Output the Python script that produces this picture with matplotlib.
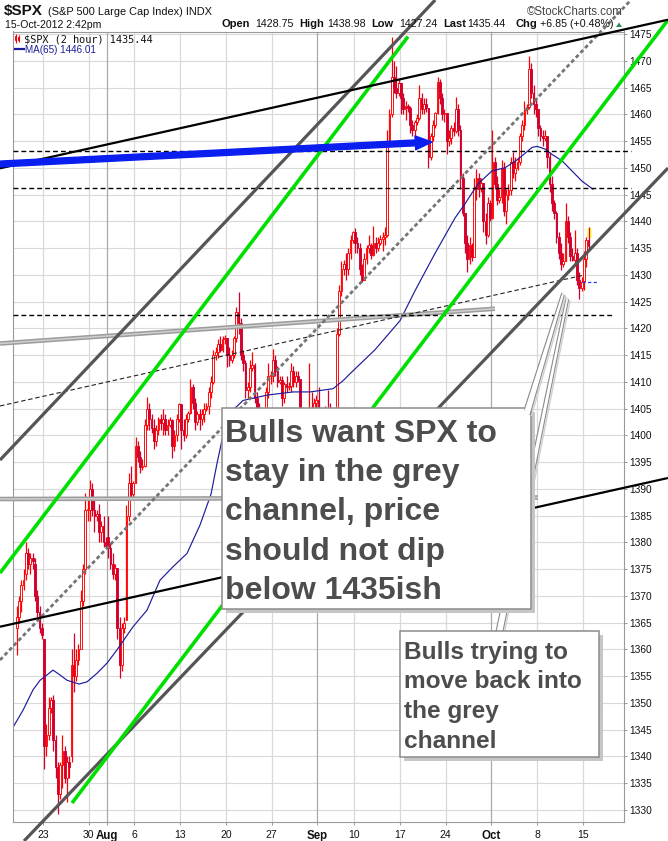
import matplotlib
matplotlib.use("Agg")
import matplotlib.pyplot as plt
from matplotlib.patches import Rectangle, Polygon, FancyArrowPatch
import numpy as np
import pandas as pd

plt.rcParams['font.family'] = ['Liberation Sans', 'DejaVu Sans']

# ------------------------------------------------------------------ data
trading_days = [d for d in pd.bdate_range('2012-07-18', '2012-10-15')
                if d != pd.Timestamp('2012-09-03')]          # Labor Day closed

# 2-hour OHLC bars, four per session (last session partial)
opens = [
    1364, 1366, 1369, 1372,
    1374, 1378, 1376, 1377,
    1376, 1370, 1367, 1364,
    1362, 1342, 1344, 1349,
    1350.5, 1343, 1338, 1333,
    1338.4, 1341, 1336, 1339,
    1340, 1357, 1355, 1358,
    1360, 1369, 1375, 1386,
    1386, 1390, 1386, 1385,
    1385.3, 1382, 1383, 1380,
    1381, 1379, 1376, 1374,
    1375.1, 1364, 1357, 1364,
    1365.5, 1385, 1391, 1389,
    1391, 1398, 1396, 1394,
    1394.2, 1402, 1405, 1403,
    1401.4, 1399, 1401, 1403,
    1402.2, 1403, 1401, 1402,
    1402.8, 1398, 1400, 1403,
    1405.9, 1401, 1400, 1403,
    1404.1, 1409, 1406, 1402.5,
    1403.9, 1403, 1404, 1405,
    1405.5, 1408, 1410, 1415,
    1415.5, 1417, 1416, 1418,
    1418.2, 1415, 1414, 1415,
    1418.1, 1423, 1421, 1415,
    1413.5, 1408.5, 1409, 1412.5,
    1413.2, 1407, 1405, 1403,
    1402.1, 1403, 1408, 1411,
    1411.1, 1414, 1412, 1410,
    1410.4, 1407, 1409.5, 1409,
    1409.3, 1412, 1410, 1411,
    1410.5, 1404, 1402, 1399,
    1399.5, 1405, 1403, 1406,
    1406.6, 1401, 1398, 1403,
    1404.9, 1404, 1403, 1402,
    1403.7, 1419, 1427, 1431,
    1432.1, 1431, 1434, 1436.5,
    1437.9, 1436, 1435, 1431,
    1429.1, 1433, 1435, 1435.5,
    1433.6, 1436, 1435, 1436,
    1436.6, 1437, 1437.5, 1455,
    1460, 1467, 1465, 1464,
    1465.8, 1463, 1461, 1461.5,
    1461.2, 1458, 1457, 1458.5,
    1459.3, 1463, 1461, 1462,
    1461.1, 1452, 1456, 1458,
    1460.3, 1466, 1463, 1460,
    1460.2, 1455, 1455.5, 1457.5,
    1456.9, 1461, 1457, 1448,
    1441.6, 1436, 1433, 1435.5,
    1433.3, 1446, 1448, 1446,
    1447.2, 1440, 1437.5, 1443.5,
    1440.7, 1451, 1447, 1444,
    1444.5, 1450, 1442, 1445,
    1445.75, 1451, 1449, 1450,
    1451, 1456, 1458, 1461,
    1461.4, 1468.5, 1464, 1462,
    1460.9, 1457.5, 1456, 1455.5,
    1455.9, 1452, 1447, 1443.5,
    1441.5, 1437, 1434, 1432,
    1432.6, 1440, 1437, 1433.5,
    1432.8, 1434, 1429, 1427.5,
    1428.75, 1433, 1436.5]

highs = [
    1368, 1370, 1373, 1375,
    1380, 1379, 1378, 1378,
    1377, 1371, 1368, 1365,
    1362, 1346, 1351, 1351,
    1351.5, 1344, 1339, 1339,
    1343.9, 1342, 1340, 1340,
    1360, 1363.1, 1360, 1361,
    1371, 1376, 1389.2, 1388,
    1391.7, 1391, 1388, 1386,
    1387.2, 1384, 1385, 1381,
    1385, 1380, 1378, 1376,
    1375.1, 1366, 1365, 1366,
    1387, 1393, 1394.2, 1391.5,
    1399.6, 1399, 1397, 1395.5,
    1403, 1407.1, 1406, 1404,
    1403, 1402, 1403.5, 1404,
    1405, 1404, 1403, 1403.5,
    1403, 1401, 1404, 1406,
    1405.9, 1403, 1404, 1404.5,
    1410.5, 1409.5, 1407, 1404.5,
    1405, 1405, 1406, 1406,
    1409, 1411, 1416, 1416.5,
    1418, 1418.5, 1418.5, 1418.7,
    1418.2, 1416.5, 1416, 1418.5,
    1424, 1426.7, 1422, 1416,
    1414, 1410, 1414, 1415.5,
    1413.5, 1408, 1406, 1404,
    1404, 1409, 1413.5, 1412,
    1416.2, 1415, 1413, 1411,
    1411, 1410, 1411, 1410,
    1413.5, 1413, 1412, 1412,
    1410.5, 1405, 1403, 1400.5,
    1413.5, 1408, 1407, 1407.5,
    1409, 1402, 1404, 1405.5,
    1408.5, 1406, 1405, 1404,
    1420, 1428, 1432.5, 1432.8,
    1434, 1435, 1437.5, 1438.2,
    1438.8, 1437, 1436, 1432,
    1434, 1435.5, 1437.5, 1436,
    1439.2, 1437, 1437, 1437.5,
    1438, 1439, 1457, 1461,
    1474.5, 1470, 1469, 1466.5,
    1465.8, 1464, 1462.5, 1462,
    1461.5, 1459, 1459, 1460,
    1465.5, 1464, 1463, 1463,
    1461.1, 1456.5, 1459, 1460.5,
    1467, 1466.5, 1464, 1461,
    1460.2, 1457, 1458, 1458.5,
    1463.2, 1462, 1458, 1449,
    1441.6, 1437.5, 1437, 1436,
    1448, 1449.7, 1449, 1448,
    1447.2, 1441.5, 1444.5, 1444,
    1457.1, 1452, 1448.5, 1446,
    1451.5, 1451, 1446, 1447,
    1452, 1453, 1452, 1452,
    1456.5, 1459, 1462.5, 1462,
    1470.96, 1469.5, 1465.5, 1463,
    1461, 1458, 1457, 1457,
    1456, 1453, 1448.5, 1444,
    1442, 1438, 1436, 1434,
    1443.4, 1441, 1438, 1435,
    1438.4, 1435, 1430.5, 1429.5,
    1434.5, 1437, 1438.98]

lows = [
    1359, 1365, 1367, 1371,
    1373, 1375, 1374, 1375,
    1369, 1366, 1363, 1362,
    1337.6, 1340, 1343, 1348,
    1341, 1336, 1329.2, 1332,
    1334, 1335, 1331.5, 1336,
    1339, 1352, 1354, 1357,
    1360, 1368, 1374, 1384,
    1384, 1385, 1382, 1384,
    1380, 1380, 1379.2, 1379,
    1377, 1375, 1373.1, 1373,
    1362, 1354.7, 1356, 1363,
    1365.5, 1384, 1388, 1388,
    1391, 1395, 1393, 1393.5,
    1394, 1401, 1401, 1400.5,
    1397.4, 1398, 1400, 1401,
    1400, 1400, 1400, 1401.5,
    1395.7, 1397, 1399, 1402.5,
    1397.5, 1399, 1399.5, 1402.5,
    1404, 1405, 1401, 1402,
    1401, 1402, 1402.5, 1404.5,
    1404, 1407, 1409.5, 1414,
    1414.5, 1415.5, 1415.5, 1417,
    1412.7, 1413, 1413.5, 1414.5,
    1417.5, 1419, 1414, 1412,
    1407, 1406.8, 1408, 1412,
    1406, 1404, 1401.5, 1401,
    1398, 1402, 1407, 1409.5,
    1410, 1411, 1409, 1409.5,
    1405.5, 1406, 1408, 1408.5,
    1408, 1409, 1409, 1410,
    1403, 1401, 1397.7, 1398.5,
    1397, 1401, 1402, 1405,
    1400, 1396.6, 1397.5, 1402.5,
    1402.5, 1401, 1401.5, 1401.5,
    1403.7, 1418.5, 1426, 1430,
    1429, 1430, 1433, 1436,
    1434, 1434, 1430, 1428.6,
    1429, 1432, 1434, 1433,
    1433.5, 1434, 1434.5, 1435.5,
    1434.5, 1435.5, 1437, 1454.5,
    1459.5, 1464, 1463, 1463.5,
    1460, 1460, 1459, 1460.5,
    1456.5, 1456, 1455.5, 1458,
    1459, 1460, 1460, 1460.5,
    1450, 1451.5, 1455, 1457.5,
    1460, 1462, 1459, 1458.5,
    1452.5, 1454, 1454.5, 1456,
    1456.5, 1456, 1446, 1441,
    1434, 1430.5, 1432, 1432.5,
    1433.3, 1444, 1444.5, 1445.5,
    1438, 1435.8, 1437, 1440,
    1440.5, 1446, 1443, 1443.5,
    1443.5, 1441, 1439.5, 1444,
    1445, 1448, 1447.5, 1449.5,
    1450.5, 1455, 1457, 1460,
    1461, 1463, 1460, 1459.5,
    1456, 1455, 1454, 1455,
    1450, 1445.5, 1442, 1440.5,
    1436, 1433, 1430.9, 1431.5,
    1432.5, 1436, 1432.5, 1432.5,
    1432, 1428, 1425.5, 1427,
    1427.24, 1431.5, 1434.5]

closes = [
    1366, 1369, 1372, 1373,
    1378, 1376, 1377, 1376.5,
    1370, 1367, 1364, 1362.7,
    1342, 1344, 1349, 1350.5,
    1343, 1338, 1333, 1338.3,
    1341, 1336, 1339, 1337.9,
    1357, 1355, 1358, 1360,
    1369, 1375, 1386, 1386,
    1390, 1386, 1385, 1385.3,
    1382, 1383, 1380, 1379.3,
    1379, 1376, 1374, 1375.1,
    1364, 1357, 1364, 1365,
    1385, 1391, 1389, 1391,
    1398, 1396, 1394, 1394.2,
    1402, 1405, 1403, 1401.4,
    1399, 1401, 1403, 1402.2,
    1403, 1401, 1402, 1402.8,
    1398, 1400, 1403, 1405.9,
    1401, 1400, 1403, 1404.1,
    1409, 1406, 1402.5, 1403.9,
    1403, 1404, 1405, 1405.5,
    1408, 1410, 1415, 1415.5,
    1417, 1416, 1418, 1418.2,
    1415, 1414, 1415, 1418.1,
    1423, 1421, 1415, 1413.5,
    1408.5, 1409, 1412.5, 1413.2,
    1407, 1405, 1403, 1402.1,
    1403, 1408, 1411, 1411.1,
    1414, 1412, 1410, 1410.4,
    1407, 1409.5, 1409, 1409.3,
    1412, 1410, 1411, 1410.5,
    1404, 1402, 1399, 1399.5,
    1405, 1403, 1406, 1406.6,
    1401, 1398, 1403, 1404.9,
    1404, 1403, 1402, 1403.4,
    1419, 1427, 1431, 1432.1,
    1431, 1434, 1436.5, 1437.9,
    1436, 1435, 1431, 1429.1,
    1433, 1435, 1435.5, 1433.6,
    1436, 1435, 1436, 1436.6,
    1437, 1437.5, 1455, 1460,
    1467, 1465, 1464, 1465.8,
    1463, 1461, 1461.5, 1461.2,
    1458, 1457, 1458.5, 1459.3,
    1463, 1461, 1462, 1461.1,
    1452, 1456, 1458, 1460.3,
    1466, 1463, 1460, 1460.2,
    1455, 1455.5, 1457.5, 1456.9,
    1461, 1457, 1448, 1441.6,
    1436, 1433, 1435.5, 1433.3,
    1446, 1448, 1446, 1447.2,
    1440, 1437.5, 1443.5, 1440.7,
    1451, 1447, 1444, 1444.5,
    1450, 1442, 1445, 1445.75,
    1451, 1449, 1450, 1451,
    1456, 1458, 1461, 1461.4,
    1468.5, 1464, 1462, 1460.9,
    1457.5, 1456, 1455.5, 1455.9,
    1452, 1447, 1443.5, 1441.5,
    1437, 1434, 1432, 1432.6,
    1440, 1437, 1433.5, 1432.8,
    1434, 1429, 1427.5, 1428.6,
    1433, 1436.5, 1435.44]

# MA(65): position in sessions, value
ma_pos = [-0.24, 0.82, 1.91, 2.68, 3.44, 4.10, 4.86, 5.63, 6.94, 7.81, 8.90, 10.0,
          11.1, 12.84, 14.37, 15.79, 17.2, 18.74, 20.16, 21.37, 22.02, 22.68, 23.77,
          24.86, 27.49, 30.33, 32.19, 34.7, 35.8, 36.56, 39.3, 42.02, 43.66, 45.85,
          48.03, 49.1, 50.55, 52.07, 53.5, 54.92, 56.45, 57.0, 57.87, 58.63, 59.73,
          60.82, 61.91, 63.1]
ma_val = [1345.5, 1348.6, 1352.4, 1354.2, 1355.2, 1356.1, 1355.2, 1354.2, 1353.5,
          1353.9, 1355.5, 1357.4, 1359.9, 1364.2, 1367.3, 1372.9, 1375.4, 1377.9,
          1383.2, 1389.0, 1394.7, 1400.0, 1404.7, 1406.5, 1407.5, 1408.1, 1408.1,
          1408.7, 1410.2, 1411.5, 1416.0, 1421.4, 1427.0, 1434.0, 1440.6, 1443.2,
          1447.0, 1449.4, 1450.0, 1451.6, 1453.8, 1454.0, 1453.5, 1452.5, 1451.3,
          1449.4, 1447.5, 1446.0]

tick_dates = ['2012-07-23', '2012-07-30', '2012-08-01', '2012-08-06', '2012-08-13',
              '2012-08-20', '2012-08-27', '2012-09-04', '2012-09-10', '2012-09-17',
              '2012-09-24', '2012-10-01', '2012-10-08', '2012-10-15']
tick_labels = ['23', '30', 'Aug', '6', '13', '20', '27', 'Sep', '10', '17', '24',
               'Oct', '8', '15']
month_labels = ['Aug', 'Sep', 'Oct']
price_ticks = list(range(1330, 1476, 5))

day_open, day_high, day_low, last_price = 1428.75, 1438.98, 1427.24, 1435.44
change, change_pct = 6.85, 0.48
prev_close = 1428.59
ma_last = 1446.01

# hand-drawn trend lines: (session positions), (prices)
black_upper_x, black_upper_y = [-1.694, 71.31], [1449.90, 1477.67]
black_lower_x, black_lower_y = [-1.694, 71.31], [1364.21, 1392.01]
grey_upper_x, grey_upper_y = [-1.694, 45.87], [1395.37, 1481.36]
grey_lower_x, grey_lower_y = [0.929, 71.31], [1324.16, 1449.95]
green_upper_x, green_upper_y = [-1.694, 42.90], [1374.25, 1474.53]
green_lower_x, green_lower_y = [6.175, 71.31], [1331.26, 1477.62]
grey_dash_x, grey_dash_y = [-1.694, 67.27], [1357.99, 1481.36]
thin_dash_x, thin_dash_y = [-1.694, 61.91], [1405.47, 1429.86]
channel_top_x, channel_top_y = [-1.694, 52.40], [1417.15, 1423.65]
channel_bot_x, channel_bot_y = [-1.694, 57.10], [1388.08, 1388.36]
hline_levels = [1453.19, 1446.16, 1422.48]
hline_ends = [67.27, 67.27, 65.3]
arrow_x, arrow_y = [-1.694, 45.52], [1450.70, 1454.81]

note_main = ["Bulls want SPX to", "stay in the grey", "channel, price",
             "should not dip", "below 1435ish"]
note_small = ["Bulls trying to", "move back into", "the grey", "channel"]

# ------------------------------------------------------------------ layout
W, H = 668, 841
fig = plt.figure(figsize=(W / 100, H / 100), dpi=100)
fig.patch.set_facecolor('white')

ax_l, ax_r, ax_t, ax_b = 13.3, 623.5, 31.5, 822.0
ax = fig.add_axes([ax_l / W, 1 - ax_b / H, (ax_r - ax_l) / W, (ax_b - ax_t) / H])
ax.set_xlim(-0.24, 66.45)
ax.set_ylim(1327.71, 1475.47)

day_index = {d.strftime('%Y-%m-%d'): i for i, d in enumerate(trading_days)}
tick_pos = [day_index[d] for d in tick_dates]

# grid
for p in price_ticks:
    ax.axhline(p, color='#d9d9d9', lw=0.8, zorder=0.3)
for pos, lab in zip(tick_pos, tick_labels):
    ax.axvline(pos, color='#a9a9a9' if lab in month_labels else '#d9d9d9',
               lw=0.9, zorder=0.35)

# candles
n = len(closes)
idx = np.arange(n)
bar_x = idx // 4 + (idx % 4 + 0.5) / 4.0
up_col, dn_col = '#ff0000', '#d4002c'
body_w = 0.19
# yellow highlight of the live bar
ax.add_patch(Rectangle((bar_x[-1] - 0.2, 1436.8), 0.55, 1.9, facecolor='#ffff70',
                       edgecolor='none', zorder=1.0))
for x, o, h, l, c in zip(bar_x, opens, highs, lows, closes):
    up = c >= o
    col = up_col if up else dn_col
    ax.vlines(x, l, h, color=col, lw=0.9, zorder=2.0)
    lo, hi = min(o, c), max(o, c)
    if hi - lo < 0.25:
        hi = lo + 0.25
    ax.add_patch(Rectangle((x - body_w / 2, lo), body_w, hi - lo,
                           facecolor='white' if up else col, edgecolor=col,
                           lw=0.65, zorder=2.1))

# moving average
ax.plot(ma_pos, ma_val, color='#1c1c9a', lw=0.85, zorder=2.5)
# previous close marker
ax.plot([61.9, 63.5], [prev_close, prev_close], color='#2233ff', lw=0.9,
        ls=(0, (2.5, 2)), zorder=2.6)

# ---- trend lines (drawn over the whole picture, like the annotated original)
def tline(xs, ys, **kw):
    ax.plot(xs, ys, clip_on=False, solid_capstyle='butt', **kw)

tline(channel_top_x, channel_top_y, color='#9c9c9c', lw=3.3, zorder=3.0)
tline(channel_top_x, channel_top_y, color='#cfcfcf', lw=1.1, zorder=3.01)
tline(channel_bot_x, channel_bot_y, color='#9c9c9c', lw=3.3, zorder=3.0)
tline(channel_bot_x, channel_bot_y, color='#cfcfcf', lw=1.1, zorder=3.01)
for lev, end in zip(hline_levels, hline_ends):
    tline([-0.24, end], [lev, lev], color='black', lw=1.0, ls=(0, (3.5, 2.2)),
          zorder=3.1)
tline(thin_dash_x, thin_dash_y, color='#222222', lw=0.8, ls=(0, (4, 2.5)), zorder=3.2)
tline(grey_dash_x, grey_dash_y, color='#757575', lw=2.0, ls=(0, (1.4, 1.0)), zorder=3.3)
tline(grey_upper_x, grey_upper_y, color='#555555', lw=2.3, zorder=3.4)
tline(grey_lower_x, grey_lower_y, color='#555555', lw=2.3, zorder=3.4)
tline(green_upper_x, green_upper_y, color='#00e000', lw=2.6, zorder=3.5)
tline(green_lower_x, green_lower_y, color='#00e000', lw=2.6, zorder=3.5)
tline(black_upper_x, black_upper_y, color='black', lw=1.6, zorder=3.6)
tline(black_lower_x, black_lower_y, color='black', lw=1.6, zorder=3.6)

arr = FancyArrowPatch((arrow_x[0], arrow_y[0]), (arrow_x[1], arrow_y[1]),
                      arrowstyle='simple,head_length=1.2,head_width=1.0,tail_width=0.42',
                      mutation_scale=10, color='#0a1ef0', shrinkA=0, shrinkB=0,
                      clip_on=False, zorder=3.8)
ax.add_patch(arr)

# axes cosmetics
ax.yaxis.tick_right()
ax.set_yticks(price_ticks)
ax.set_yticklabels([str(p) for p in price_ticks])
ax.set_xticks(tick_pos)
ax.set_xticklabels(tick_labels)
ax.tick_params(axis='y', direction='out', length=2.5, width=0.6, color='#888888',
               labelsize=7.3, pad=1.5, labelcolor='#111111')
ax.tick_params(axis='x', direction='out', length=2, width=0.6, color='#888888',
               labelsize=7.5, pad=3.5, labelcolor='#111111')
for t in ax.get_xticklabels():
    if t.get_text() in month_labels:
        t.set_fontweight('bold')
        t.set_fontsize(8.3)
for sp in ax.spines.values():
    sp.set_color('#9a9a9a')
    sp.set_linewidth(0.8)
ax.set_facecolor('white')

# ------------------------------------------------------------------ overlay (pixel space)
ov = fig.add_axes([0, 0, 1, 1], zorder=10)
ov.set_xlim(0, W)
ov.set_ylim(H, 0)
ov.axis('off')
ov.patch.set_alpha(0)

# header
ov.text(4, 14.8, '$SPX', fontsize=11, fontweight='bold', color='#111111')
ov.text(48, 14.5, '(S&P 500 Large Cap Index) INDX', fontsize=7.9, color='#111111')
ov.text(623, 14.5, '\u00a9StockCharts.com', fontsize=8.3, color='#444444', ha='right')
ov.text(5, 27.5, '15-Oct-2012 2:42pm', fontsize=7.6, color='#111111')
info = [(222, 'Open', True), (255, f'{day_open:.2f}', False),
        (299, 'High', True), (327, f'{day_high:.2f}', False),
        (371, 'Low', True), (399, f'{day_low:.2f}', False),
        (443, 'Last', True), (467, f'{last_price:.2f}', False),
        (515, 'Chg', True), (540, f'+{change:.2f} (+{change_pct:.2f}%)', False)]
for x, s, b in info:
    ov.text(x, 26.5, s, fontsize=8.0 if b else 7.7,
            fontweight='bold' if b else 'normal', color='#111111')
ov.add_patch(Polygon([[616, 27], [622, 27], [619, 22.5]], closed=True,
                     facecolor='#2e8b57', edgecolor='none'))

# legend
ov.vlines([15.5, 18.5], [33.5, 35], [43, 41.5], color='#ff0000', lw=0.8)
ov.add_patch(Rectangle((14.6, 36), 1.8, 4, facecolor='white', edgecolor='#ff0000', lw=0.7))
ov.add_patch(Rectangle((17.6, 36.5), 1.8, 3.5, facecolor='#d4002c', edgecolor='#d4002c', lw=0.7))
ov.text(24, 42, f'$SPX (2 hour) {last_price:.2f}', fontsize=7.4,
        family='DejaVu Sans Mono', color='#111111')
ov.plot([15, 24], [49, 49], color='#1c1c9a', lw=1.6)
ov.text(25, 52.5, f'MA(65) {ma_last:.2f}', fontsize=7.1, color='#1c1c9a')

# ---- callouts
box_edge, shadow = '#8c8c8c', '#c6c6c6'
text_col = '#4d4d4d'

def callout_tail(pts, zorder):
    ov.add_patch(Polygon(pts, closed=True, facecolor='white', edgecolor='none',
                         zorder=zorder))
    (x0, y0), (x1, y1), (x2, y2), (x3, y3) = pts
    for (a, b), (c, d) in (((x0, y0), (x1, y1)), ((x3, y3), (x2, y2))):
        ov.plot([a + 1.5, c + 1.5], [b + 1, d + 1], color='#d0d0d0', lw=1.0,
                zorder=zorder - 0.01)
        ov.plot([a, c], [b, d], color='#8a8a8a', lw=0.8, zorder=zorder + 0.01)

def box(x0, y0, x1, y1, zorder):
    ov.add_patch(Rectangle((x0 + 4, y0 + 4), x1 - x0, y1 - y0, facecolor=shadow,
                           edgecolor='none', zorder=zorder - 0.1))
    ov.add_patch(Rectangle((x0, y0), x1 - x0, y1 - y0, facecolor='white',
                           edgecolor=box_edge, lw=1.1, zorder=zorder))

# small note (behind big note)
callout_tail([(496, 631.5), (566, 298), (568.5, 300), (503, 631.5)], 1.0)
box(400, 631, 599, 757, 1.5)
for i, s in enumerate(note_small):
    ov.text(404, 659 + 29.5 * i, s, fontsize=17.6, fontweight='bold', color=text_col,
            zorder=2)

# big note
box(221.7, 408.3, 530.7, 609.3, 3.0)
callout_tail([(524.5, 408.9), (561.7, 293.3), (564.2, 295.5), (530.1, 414.5)], 3.5)
for i, s in enumerate(note_main):
    ov.text(225, 442 + 39.2 * i, s, fontsize=23, fontweight='bold', color=text_col,
            zorder=4)

fig.savefig('out.png', dpi=100, facecolor='white')
